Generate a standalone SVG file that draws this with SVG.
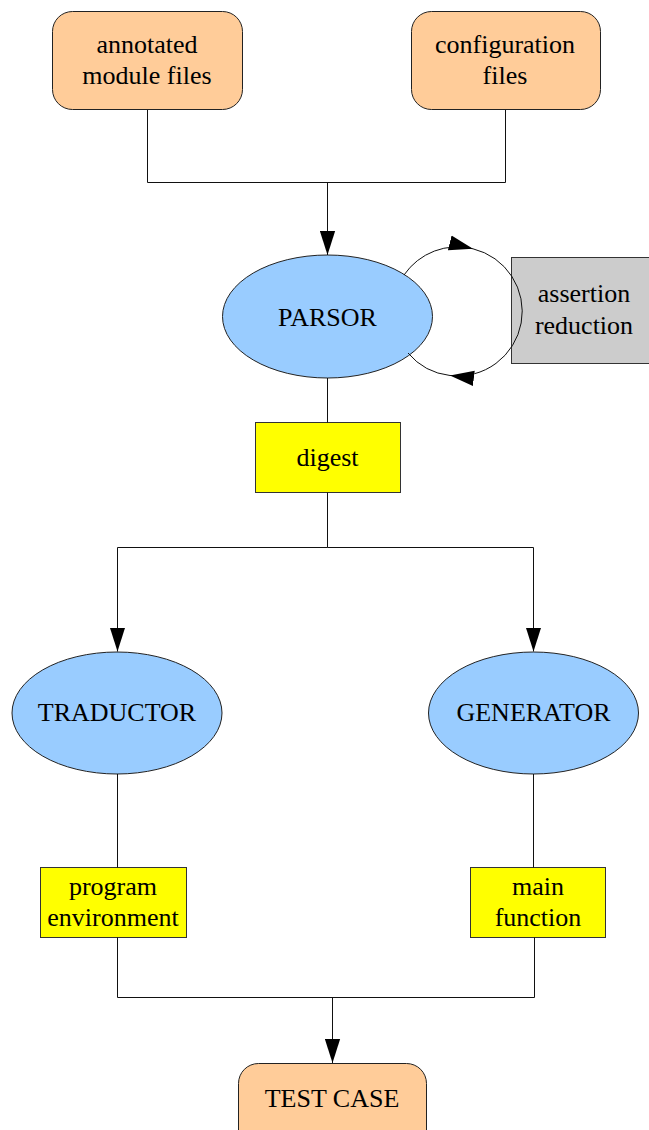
<svg xmlns="http://www.w3.org/2000/svg" width="649" height="1130" viewBox="0 0 649 1130">
<style>
text{font-family:'Liberation Serif','Times New Roman','DejaVu Serif',serif;font-size:26px;fill:#000;text-anchor:middle}
.io{fill:#ffcc99;stroke:#222;stroke-width:1}
.proc{fill:#99ccff;stroke:#222;stroke-width:1}
.data{fill:#ffff00;stroke:#333;stroke-width:1}
.aux{fill:#cccccc;stroke:#333;stroke-width:1}
.c{fill:none;stroke:#111;stroke-width:1}
</style>
<defs>
<marker id="arr" markerUnits="userSpaceOnUse" markerWidth="24" markerHeight="16" viewBox="0 0 22 14" refX="22" refY="7" orient="auto">
<path d="M0,0 L22,7 L0,14 z" fill="#000"/>
</marker>
</defs>
<rect width="649" height="1130" fill="#fff"/>
<g id="annotated">
<rect class="io" x="52.5" y="11.5" width="190" height="98" rx="20"/>
<text x="147" y="53">annotated</text>
<text x="147" y="84">module files</text>
</g>
<g id="configuration">
<rect class="io" x="411.5" y="11.5" width="189" height="98" rx="20"/>
<text x="505" y="53">configuration</text>
<text x="505" y="84">files</text>
</g>
<g id="assertion">
<rect class="aux" x="511.5" y="257.5" width="140" height="106"/>
<text x="584" y="302">assertion</text>
<text x="584" y="334">reduction</text>
</g>
<g id="parsor">
<ellipse class="proc" cx="327.5" cy="316.5" rx="105" ry="61.5"/>
<text x="327.5" y="326">PARSOR</text>
</g>
<g id="digest">
<rect class="data" x="255.5" y="422.5" width="145" height="70"/>
<text x="327.5" y="466">digest</text>
</g>
<g id="traductor">
<ellipse class="proc" cx="117" cy="713" rx="105" ry="61"/>
<text x="117" y="721">TRADUCTOR</text>
</g>
<g id="generator">
<ellipse class="proc" cx="533.5" cy="713" rx="105" ry="61"/>
<text x="533.5" y="721">GENERATOR</text>
</g>
<g id="program">
<rect class="data" x="40.5" y="867.5" width="146" height="70"/>
<text x="113" y="895">program</text>
<text x="113" y="926">environment</text>
</g>
<g id="mainfunction">
<rect class="data" x="470.5" y="867.5" width="135" height="70"/>
<text x="538" y="895">main</text>
<text x="538" y="926">function</text>
</g>
<g id="testcase">
<rect class="io" x="238.5" y="1063.5" width="188" height="90" rx="20"/>
<text x="332" y="1107">TEST CASE</text>
</g>
<g id="connectors">
<path class="c" d="M147.5,110 V182.5 H505.5 V110"/>
<path class="c" d="M327.5,182.5 V255" marker-end="url(#arr)"/>
<path class="c" d="M404,275 A64.5,64.5 0 0 1 473,248.8" marker-end="url(#arr)"/>
<path class="c" d="M473,248.8 A64.5,64.5 0 0 1 450,375.5" marker-end="url(#arr)"/>
<path class="c" d="M450,375.5 A64.5,64.5 0 0 1 408,353"/>
<path class="c" d="M327.5,378 V422.5"/>
<path class="c" d="M327.5,492.5 V547.5 H117.5 V651.5" marker-end="url(#arr)"/>
<path class="c" d="M327.5,547.5 H533.5 V651.5" marker-end="url(#arr)"/>
<path class="c" d="M117.5,774 V867.5"/>
<path class="c" d="M533.5,774 V867.5"/>
<path class="c" d="M117.5,937.5 V997.5 H534.5 V937.5"/>
<path class="c" d="M332.5,997.5 V1063" marker-end="url(#arr)"/>
</g>
</svg>
